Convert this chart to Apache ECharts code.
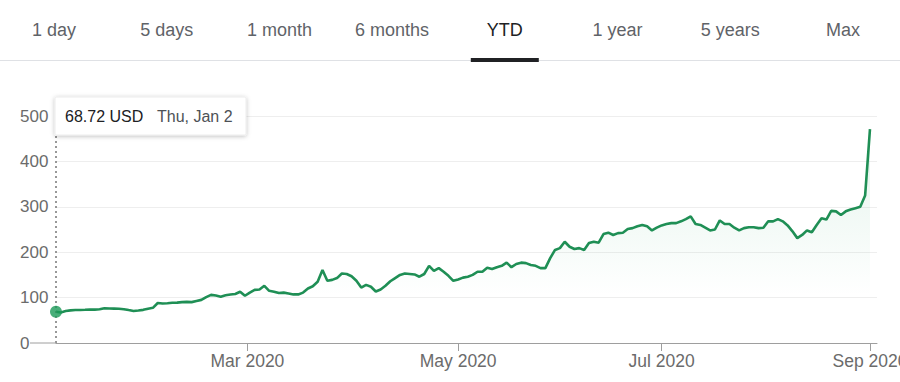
<!DOCTYPE html>
<html>
<head>
<meta charset="utf-8">
<script src="https://cdn.jsdelivr.net/npm/echarts@6/dist/echarts.min.js"></script>
<style>
html,body{margin:0;padding:0;background:#fff;}
#c{width:900px;height:382px;}
</style>
</head>
<body>
<div id="c"></div>
<script>
// ---- data ----
const tabLabels = ['1 day', '5 days', '1 month', '6 months', 'YTD', '1 year', '5 years', 'Max'];
const activeTab = 'YTD';
const currency = 'USD';
const firstDate = '2020-01-02';
const marketHolidays = ['2020-01-20', '2020-02-17', '2020-04-10', '2020-05-25', '2020-07-03'];
const prices = [
  68.72, 67.3, 70.3, 71.9, 72.6, 72.6, 73.1, 73.8, 73.5, 74.5,
  76.5, 76.0, 75.8, 75.5, 74.5, 72.5, 70.6, 71.5, 73.0, 75.5,
  77.5, 88.0, 87.0, 87.5, 88.5, 89.0, 90.0, 90.5, 90.0, 92.5,
  95.0, 101.0, 106.0, 104.5, 102.0, 105.0, 107.0, 108.0, 113.0, 104.0,
  111.0, 117.0, 118.0, 126.0, 115.0, 113.0, 110.0, 111.0, 109.0, 107.0,
  107.0, 111.0, 120.0, 125.0, 135.0, 161.0, 137.0, 139.0, 143.0, 153.0,
  152.0, 147.0, 137.0, 122.0, 128.0, 124.0, 113.5, 118.0, 126.0, 136.0,
  143.0, 150.0, 153.0, 152.0, 151.0, 146.0, 152.0, 170.0, 159.0, 165.0,
  157.0, 148.0, 137.0, 140.0, 144.0, 146.0, 150.0, 157.0, 157.0, 166.0,
  163.0, 167.0, 170.0, 177.0, 167.0, 174.0, 177.0, 176.0, 172.0, 170.0,
  165.0, 165.0, 187.0, 205.0, 209.0, 223.0, 212.0, 207.0, 209.0, 205.0,
  220.0, 223.0, 221.0, 240.0, 243.0, 238.0, 242.0, 243.0, 251.0, 253.0,
  257.0, 260.0, 257.0, 248.0, 254.0, 259.0, 262.0, 264.0, 264.0, 268.0,
  273.0, 279.0, 262.0, 260.0, 254.0, 248.0, 250.0, 270.0, 262.0, 262.0,
  254.0, 248.0, 253.0, 255.0, 255.0, 253.0, 254.0, 268.0, 268.0, 273.0,
  268.0, 259.0, 246.0, 231.0, 238.0, 248.0, 244.0, 260.0, 275.0, 272.0,
  291.0, 290.0, 282.0, 290.0, 294.0, 297.0, 300.0, 325.0, 471.0
];
const yTicks = [0, 100, 200, 300, 400, 500];
const monthTickLabels = ['Mar 2020', 'May 2020', 'Jul 2020', 'Sep 2020'];
const monthTickStarts = ['2020-03-01', '2020-05-01', '2020-07-01', '2020-09-01'];

// ---- trading-day calendar (one category per price) ----
function iso(d) { return d.toISOString().slice(0, 10); }
const tradingDates = [];
(function () {
  const d = new Date(firstDate + 'T00:00:00Z');
  while (tradingDates.length < prices.length) {
    const wd = d.getUTCDay();
    const s = iso(d);
    if (wd !== 0 && wd !== 6 && marketHolidays.indexOf(s) < 0) tradingDates.push(s);
    d.setUTCDate(d.getUTCDate() + 1);
  }
})();
// tick position (in trading-day index units) of each month start
const monthTickPos = monthTickStarts.map(function (s) {
  for (let i = 0; i < tradingDates.length; i++) {
    if (tradingDates[i] >= s) return tradingDates[i] === s ? i : i - 0.5;
  }
  return tradingDates.length - 1;
});
function labelFor(v) {
  for (let k = 0; k < monthTickPos.length; k++) if (Math.abs(monthTickPos[k] - v) < 1e-6) return monthTickLabels[k];
  return '';
}
const WD = ['Sun', 'Mon', 'Tue', 'Wed', 'Thu', 'Fri', 'Sat'];
const MO = ['Jan', 'Feb', 'Mar', 'Apr', 'May', 'Jun', 'Jul', 'Aug', 'Sep', 'Oct', 'Nov', 'Dec'];
function fmtDate(s) {
  const d = new Date(s + 'T00:00:00Z');
  return WD[d.getUTCDay()] + ', ' + MO[d.getUTCMonth()] + ' ' + d.getUTCDate();
}

const FONT = "'Liberation Sans', Arial, sans-serif";
const lineColor = '#1f8f55';

const chart = echarts.init(document.getElementById('c'), null, { renderer: 'svg' });

const option = {
  animation: false,
  backgroundColor: '#fff',
  grid: { left: 56, right: 23, top: 116, bottom: 39, containLabel: false, outerBoundsMode: 'none' },
  xAxis: {
    type: 'value',
    min: 0,
    max: prices.length - 1 + 1.45,
    splitLine: { show: false },
    axisLine: { show: true, onZero: false, lineStyle: { color: '#9e9e9e', width: 1 } },
    axisTick: { show: true, customValues: monthTickPos, length: 8, lineStyle: { color: '#9e9e9e', width: 1 } },
    axisLabel: {
      show: true, customValues: monthTickPos, formatter: labelFor, hideOverlap: false,
      color: '#6b6b6b', fontSize: 17.5, fontFamily: FONT, margin: 9
    }
  },
  yAxis: {
    type: 'value',
    min: yTicks[0],
    max: yTicks[yTicks.length - 1],
    interval: yTicks[1] - yTicks[0],
    axisLine: { show: false },
    axisTick: { show: false },
    axisLabel: { color: '#6b6b6b', fontSize: 17, fontFamily: FONT, align: 'left', margin: 36 },
    splitLine: { show: true, lineStyle: { color: '#eeeeee', width: 1 } }
  },
  series: [
    {
      type: 'line',
      data: prices.map(function (v, i) { return [i, v]; }),
      showSymbol: false,
      symbol: 'none',
      lineStyle: { color: lineColor, width: 2.6 },
      areaStyle: {
        color: new echarts.graphic.LinearGradient(0, 0, 0, 1, [
          { offset: 0, color: 'rgba(15,157,88,0.17)' },
          { offset: 0.45, color: 'rgba(15,157,88,0.07)' },
          { offset: 0.78, color: 'rgba(15,157,88,0)' }
        ])
      },
      markLine: {
        silent: true,
        symbol: 'none',
        label: { show: false },
        lineStyle: { color: '#777', type: [2, 3], width: 1.5 },
        data: [{ xAxis: 0 }]
      },
      z: 3
    },
    {
      type: 'scatter',
      data: [[0, prices[0]]],
      symbol: 'circle',
      symbolSize: 12,
      itemStyle: { color: '#1a9a57' },
      z: 5
    }
  ]
};
chart.setOption(option);

function buildGraphic() {
  const y0 = chart.convertToPixel({ yAxisIndex: 0 }, yTicks[0]);
  const xStart = chart.convertToPixel({ xAxisIndex: 0 }, 0);
  const els = [];
  // tabs
  tabLabels.forEach(function (t, k) {
    els.push({
      type: 'text', z: 100,
      style: {
        text: t, x: 54 + k * 112.7, y: 30, align: 'center', verticalAlign: 'middle',
        fontSize: 18, fontFamily: FONT, fill: t === activeTab ? '#202124' : '#5f6368',
        fontWeight: t === activeTab ? 500 : 'normal'
      }
    });
  });
  els.push({ type: 'rect', z: 99, shape: { x: 0, y: 60, width: 900, height: 1 }, style: { fill: '#dfe1e5' } });
  const ai = tabLabels.indexOf(activeTab);
  els.push({ type: 'rect', z: 100, shape: { x: 54 + ai * 112.7 - 34, y: 58, width: 68, height: 4 }, style: { fill: '#202124' } });
  // baseline extension left of the plot
  els.push({ type: 'line', z: 50, shape: { x1: 30, y1: y0, x2: xStart, y2: y0 }, style: { stroke: '#9e9e9e', lineWidth: 1 } });
  // tooltip box
  els.push({
    type: 'rect', z: 100,
    shape: { x: 55, y: 97, width: 191, height: 38, r: 1 },
    style: { fill: '#fff', stroke: '#ececec', lineWidth: 1, shadowBlur: 4, shadowOffsetY: 1, shadowColor: 'rgba(0,0,0,0.25)' }
  });
  els.push({
    type: 'text', z: 101,
    style: { text: prices[0].toFixed(2) + ' ' + currency, x: 65, y: 116, verticalAlign: 'middle', fontSize: 16, fontFamily: FONT, fill: '#202124' }
  });
  els.push({
    type: 'text', z: 101,
    style: { text: fmtDate(tradingDates[0]), x: 157, y: 116, verticalAlign: 'middle', fontSize: 16, fontFamily: FONT, fill: '#4d5156' }
  });
  return els;
}
chart.setOption({ graphic: buildGraphic() });
</script>
</body>
</html>
